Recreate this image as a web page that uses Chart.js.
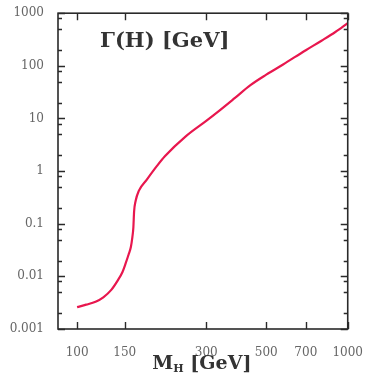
<!DOCTYPE html>
<html>
<head>
<meta charset="utf-8">
<script src="https://cdn.jsdelivr.net/npm/chart.js@4.4.0/dist/chart.umd.min.js"></script>
<style>
html,body{margin:0;padding:0;background:#fff;}
#wrap{width:372px;height:378px;position:relative;}
</style>
</head>
<body>
<div id="wrap"><canvas id="c"></canvas></div>
<script>
// Higgs mass M_H [GeV]
const masses = [100,108,117,125,134,141,147,151,155,158,160,161.4,162.4,164.5,169,181,197,211,252,300,332,381,437,500,575,700,800,900,1000];
// Total width Gamma(H) [GeV]
const widths = [0.0026,0.0029,0.0033,0.0040,0.0056,0.0082,0.012,0.0174,0.026,0.036,0.055,0.085,0.17,0.27,0.42,0.69,1.24,1.91,4.57,9.0,13.5,24,43,68,105,198,300,440,650];

const xTickValues = [100,150,300,500,700,1000];
const yTickValues = [0.001,0.01,0.1,1,10,100,1000];
const yTickLabels = ['0.001','0.01','0.1','1','10','100','1000'];
const yMinorMultipliers = [2,5,8];

const titleText = 'Γ(H) [GeV]';
const xTitleMain = 'M';
const xTitleSub = 'H';
const xTitleRest = ' [GeV]';

const yMinor = [];
yTickValues.slice(0,-1).forEach(v => yMinorMultipliers.forEach(m => yMinor.push(v*m)));

const framePlugin = {
  id: 'frame',
  afterDraw(chart) {
    const {ctx, chartArea: a, scales} = chart;
    const xs = scales.x, ys = scales.y;
    ctx.save();
    ctx.strokeStyle = '#2a2a2a';
    ctx.lineWidth = 1.6;
    ctx.strokeRect(a.left, a.top, a.right - a.left, a.bottom - a.top);
    ctx.lineWidth = 1.4;
    ctx.beginPath();
    xTickValues.forEach(v => {
      const px = Math.round(xs.getPixelForValue(v)) + 0.5;
      ctx.moveTo(px, a.bottom); ctx.lineTo(px, a.bottom - 7);
      ctx.moveTo(px, a.top); ctx.lineTo(px, a.top + 7);
    });
    yTickValues.forEach(v => {
      const py = Math.round(ys.getPixelForValue(v)) + 0.5;
      ctx.moveTo(a.left, py); ctx.lineTo(a.left + 7, py);
      ctx.moveTo(a.right, py); ctx.lineTo(a.right - 7, py);
    });
    yMinor.forEach(v => {
      const py = Math.round(ys.getPixelForValue(v)) + 0.5;
      ctx.moveTo(a.left, py); ctx.lineTo(a.left + 4, py);
      ctx.moveTo(a.right, py); ctx.lineTo(a.right - 4, py);
    });
    ctx.stroke();

    // inner title
    ctx.fillStyle = '#333';
    ctx.font = 'bold 21px "DejaVu Serif"';
    ctx.textBaseline = 'alphabetic';
    ctx.textAlign = 'left';
    ctx.fillText(titleText, a.left + 42, a.top + 34);

    // x axis title with subscript
    const fMain = 'bold 19px "DejaVu Serif"';
    const fSub = 'bold 11px "DejaVu Serif"';
    ctx.font = fMain; const w1 = ctx.measureText(xTitleMain).width;
    const w3 = ctx.measureText(xTitleRest).width;
    ctx.font = fSub; const w2 = ctx.measureText(xTitleSub).width;
    const total = w1 + w2 + w3;
    const cx = (a.left + a.right) / 2 - 1;
    let x0 = cx - total / 2;
    const base = a.bottom + 40;
    ctx.font = fMain; ctx.fillText(xTitleMain, x0, base);
    ctx.font = fSub; ctx.fillText(xTitleSub, x0 + w1, base + 3);
    ctx.font = fMain; ctx.fillText(xTitleRest, x0 + w1 + w2, base);
    ctx.restore();
  }
};

new Chart(document.getElementById('c'), {
  type: 'line',
  data: {
    datasets: [{
      data: masses.map((m, i) => ({x: m, y: widths[i]})),
      borderColor: '#e8174e',
      borderWidth: 2.2,
      pointRadius: 0,
      fill: false,
      cubicInterpolationMode: 'monotone'
    }]
  },
  options: {
    responsive: true,
    maintainAspectRatio: false,
    animation: false,
    layout: {padding: {top: 11, right: 15, left: 0, bottom: 0}},
    plugins: {legend: {display: false}, tooltip: {enabled: false}},
    scales: {
      x: {
        type: 'logarithmic',
        min: 85, max: 1000,
        grid: {display: false},
        border: {display: false},
        afterBuildTicks: s => { s.ticks = xTickValues.map(v => ({value: v})); },
        afterFit: s => { s.height = 49; },
        ticks: {
          autoSkip: false, maxRotation: 0, padding: 9,
          color: '#666',
          font: {family: 'DejaVu Serif', size: 12},
          callback: v => String(v)
        }
      },
      y: {
        type: 'logarithmic',
        min: 0.001, max: 1000,
        grid: {display: false},
        border: {display: false},
        afterBuildTicks: s => { s.ticks = yTickValues.map(v => ({value: v})); },
        afterFit: s => { s.width = 58; },
        ticks: {
          autoSkip: false, padding: 6,
          color: '#666',
          font: {family: 'DejaVu Serif', size: 12},
          callback: v => yTickLabels[yTickValues.findIndex(t => Math.abs(Math.log10(t) - Math.log10(v)) < 1e-6)]
        }
      }
    }
  },
  plugins: [framePlugin]
});
</script>
</body>
</html>
